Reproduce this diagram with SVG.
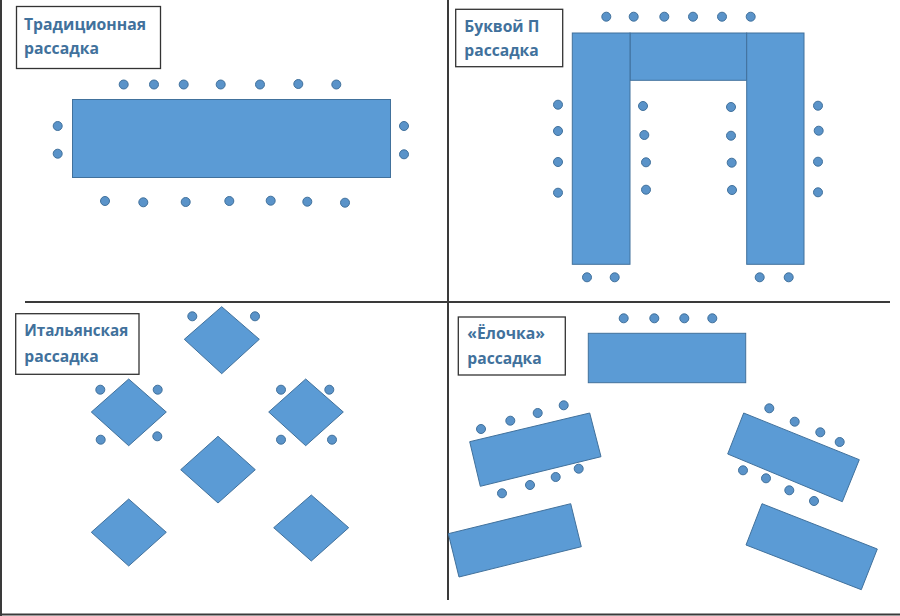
<svg xmlns="http://www.w3.org/2000/svg" width="900" height="616" viewBox="0 0 900 616">
<style>
.tbl{fill:#5B9BD5;stroke:#41719C;stroke-width:1}
.dot{fill:#5A93C9;stroke:#41719C;stroke-width:1}
.lbl{fill:#fff;stroke:#333;stroke-width:1.3}
.txt{font-family:"Open Sans","Liberation Sans",sans-serif;font-weight:bold;font-size:16px;fill:#41719C}
.div{stroke:#3a3a3a;stroke-width:2;fill:none}
</style>
<rect width="900" height="616" fill="#fff"/>
<g id="frame">
<line class="div" x1="1" y1="0" x2="1" y2="616" stroke-width="1.5"/>
<line class="div" x1="0" y1="614.5" x2="900" y2="614.5" stroke-width="3"/>
<line class="div" x1="448" y1="0" x2="448" y2="600"/>
<line class="div" x1="25" y1="302" x2="890" y2="302"/>
</g>

<g id="traditional">
<rect class="lbl" x="16.5" y="6.5" width="144" height="62"/>
<text class="txt" x="24" y="30" textLength="122" lengthAdjust="spacingAndGlyphs">Традиционная</text>
<text class="txt" x="24" y="54" textLength="75" lengthAdjust="spacingAndGlyphs">рассадка</text>
<rect class="tbl" x="72.5" y="99.5" width="318" height="78"/>
<g>
<circle class="dot" cx="123.7" cy="84.5" r="4.5"/>
<circle class="dot" cx="154" cy="84.5" r="4.5"/>
<circle class="dot" cx="183.7" cy="84.5" r="4.5"/>
<circle class="dot" cx="220.7" cy="84.5" r="4.5"/>
<circle class="dot" cx="260" cy="84.5" r="4.5"/>
<circle class="dot" cx="298.3" cy="84" r="4.5"/>
<circle class="dot" cx="336.3" cy="84.5" r="4.5"/>
<circle class="dot" cx="57.7" cy="126" r="4.5"/>
<circle class="dot" cx="57.7" cy="153.7" r="4.5"/>
<circle class="dot" cx="404" cy="126" r="4.5"/>
<circle class="dot" cx="404" cy="154.3" r="4.5"/>
<circle class="dot" cx="105" cy="201" r="4.5"/>
<circle class="dot" cx="143.3" cy="202.3" r="4.5"/>
<circle class="dot" cx="185.7" cy="202" r="4.5"/>
<circle class="dot" cx="229.3" cy="201" r="4.5"/>
<circle class="dot" cx="270.7" cy="200.7" r="4.5"/>
<circle class="dot" cx="307.3" cy="201.7" r="4.5"/>
<circle class="dot" cx="345" cy="202.7" r="4.5"/>
</g>
</g>

<g id="u-shape">
<rect class="lbl" x="455.7" y="9.3" width="107" height="57.4"/>
<text class="txt" x="464.3" y="32" textLength="75" lengthAdjust="spacingAndGlyphs">Буквой П</text>
<text class="txt" x="464.3" y="56" textLength="74.4" lengthAdjust="spacingAndGlyphs">рассадка</text>
<rect class="tbl" x="630" y="33" width="116.7" height="47.3"/>
<rect class="tbl" x="572.3" y="33" width="57.7" height="231.3"/>
<rect class="tbl" x="746.7" y="33" width="57.3" height="231.3"/>
<g>
<circle class="dot" cx="606.3" cy="16.7" r="4.5"/>
<circle class="dot" cx="633.7" cy="16.7" r="4.5"/>
<circle class="dot" cx="664.3" cy="16.7" r="4.5"/>
<circle class="dot" cx="693" cy="16.7" r="4.5"/>
<circle class="dot" cx="722" cy="16.7" r="4.5"/>
<circle class="dot" cx="750.7" cy="16.7" r="4.5"/>
<circle class="dot" cx="558" cy="104.7" r="4.5"/>
<circle class="dot" cx="558" cy="131" r="4.5"/>
<circle class="dot" cx="558" cy="162" r="4.5"/>
<circle class="dot" cx="558" cy="192.7" r="4.5"/>
<circle class="dot" cx="643" cy="106" r="4.5"/>
<circle class="dot" cx="644.3" cy="135" r="4.5"/>
<circle class="dot" cx="646" cy="162.3" r="4.5"/>
<circle class="dot" cx="646" cy="189.7" r="4.5"/>
<circle class="dot" cx="731" cy="107" r="4.5"/>
<circle class="dot" cx="731" cy="135.7" r="4.5"/>
<circle class="dot" cx="731.7" cy="162.7" r="4.5"/>
<circle class="dot" cx="732" cy="190" r="4.5"/>
<circle class="dot" cx="818" cy="105.7" r="4.5"/>
<circle class="dot" cx="818.7" cy="130.7" r="4.5"/>
<circle class="dot" cx="818" cy="161.7" r="4.5"/>
<circle class="dot" cx="818" cy="192.3" r="4.5"/>
<circle class="dot" cx="587" cy="277.3" r="4.5"/>
<circle class="dot" cx="614.7" cy="277.3" r="4.5"/>
<circle class="dot" cx="759.7" cy="277.3" r="4.5"/>
<circle class="dot" cx="788.7" cy="277.3" r="4.5"/>
</g>
</g>

<g id="italian">
<rect class="lbl" x="15.7" y="313.7" width="123.3" height="60.6"/>
<text class="txt" x="24.3" y="336" textLength="104" lengthAdjust="spacingAndGlyphs">Итальянская</text>
<text class="txt" x="24.3" y="361.5" textLength="74.4" lengthAdjust="spacingAndGlyphs">рассадка</text>
<polygon class="tbl" points="221.7,306.7 259.3,339.3 221.7,373.7 184.3,339.3"/>
<polygon class="tbl" points="128.7,379 166.3,412 128.7,445.7 91.3,412"/>
<polygon class="tbl" points="305.7,379 343.3,412 305.7,445.7 268.7,412"/>
<polygon class="tbl" points="218,436.3 255.3,469.7 218,503 180.7,469.7"/>
<polygon class="tbl" points="128.7,499 166.3,532.3 128.7,566 91.3,532.3"/>
<polygon class="tbl" points="311.3,495 348.7,527.7 311.3,561 273.7,527.7"/>
<g>
<circle class="dot" cx="192.3" cy="316.3" r="4.5"/>
<circle class="dot" cx="255" cy="316.3" r="4.5"/>
<circle class="dot" cx="100.3" cy="389.7" r="4.5"/>
<circle class="dot" cx="157.7" cy="389.7" r="4.5"/>
<circle class="dot" cx="100.7" cy="439.7" r="4.5"/>
<circle class="dot" cx="157.3" cy="436.3" r="4.5"/>
<circle class="dot" cx="281" cy="389.7" r="4.5"/>
<circle class="dot" cx="329.3" cy="389.7" r="4.5"/>
<circle class="dot" cx="281" cy="439.7" r="4.5"/>
<circle class="dot" cx="332" cy="439.7" r="4.5"/>
</g>
</g>

<g id="herringbone">
<rect class="lbl" x="458.3" y="317" width="107" height="58"/>
<text class="txt" x="467.3" y="339" textLength="77.7" lengthAdjust="spacingAndGlyphs">«Ёлочка»</text>
<text class="txt" x="467.3" y="364" textLength="74.4" lengthAdjust="spacingAndGlyphs">рассадка</text>
<rect class="tbl" x="588.3" y="333.3" width="157.4" height="49.4"/>
<polygon class="tbl" points="469.7,441.7 589.7,413 601,456.7 480.3,486.3"/>
<polygon class="tbl" points="448.3,533.7 570.7,503.7 581.3,546.7 459,577"/>
<polygon class="tbl" points="743.7,413 859.3,459.7 842.3,501.7 727.7,454"/>
<polygon class="tbl" points="762,503.7 877.3,549 861.3,589.7 746,545"/>
<g>
<circle class="dot" cx="623.7" cy="318.3" r="4.5"/>
<circle class="dot" cx="654.3" cy="318.3" r="4.5"/>
<circle class="dot" cx="684.3" cy="318.3" r="4.5"/>
<circle class="dot" cx="712.3" cy="318.3" r="4.5"/>
<circle class="dot" cx="481" cy="429" r="4.5"/>
<circle class="dot" cx="510.3" cy="420.7" r="4.5"/>
<circle class="dot" cx="537.7" cy="413" r="4.5"/>
<circle class="dot" cx="563.7" cy="405.3" r="4.5"/>
<circle class="dot" cx="502" cy="493.3" r="4.5"/>
<circle class="dot" cx="530" cy="485" r="4.5"/>
<circle class="dot" cx="555.7" cy="477" r="4.5"/>
<circle class="dot" cx="578.7" cy="468.7" r="4.5"/>
<circle class="dot" cx="769.3" cy="408.3" r="4.5"/>
<circle class="dot" cx="794.7" cy="421.7" r="4.5"/>
<circle class="dot" cx="820.3" cy="432.3" r="4.5"/>
<circle class="dot" cx="839.7" cy="442" r="4.5"/>
<circle class="dot" cx="743" cy="470.3" r="4.5"/>
<circle class="dot" cx="766" cy="478.3" r="4.5"/>
<circle class="dot" cx="789.3" cy="490.3" r="4.5"/>
<circle class="dot" cx="814" cy="501" r="4.5"/>
</g>
</g>
</svg>
